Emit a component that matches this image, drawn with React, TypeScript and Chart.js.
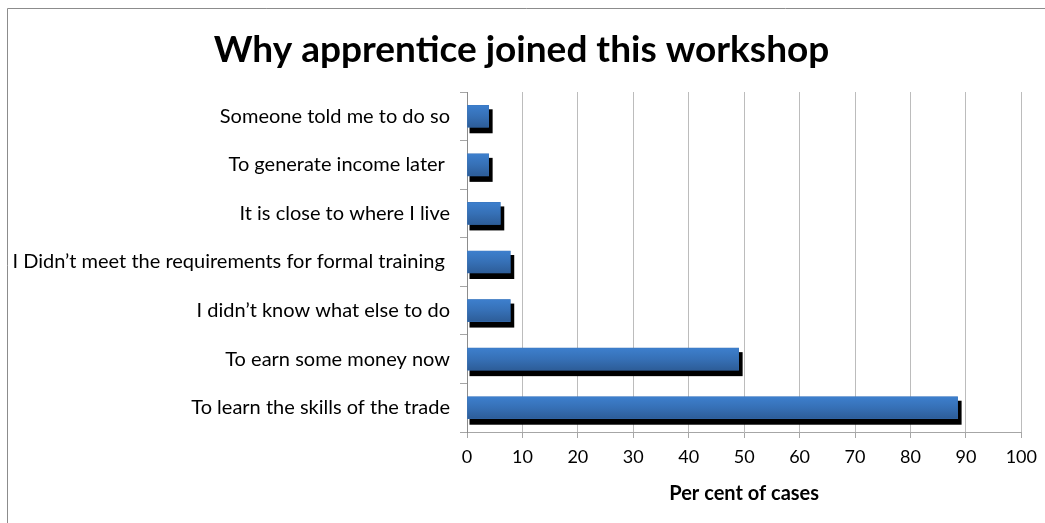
import React, { useEffect, useRef } from "react";
import { Chart, registerables } from "chart.js";

Chart.register(...registerables);

const categories: string[] = [
  "Someone told me to do so",
  "To generate income later ",
  "It is close to where I live",
  "I Didn’t meet the requirements for formal training ",
  "I didn’t know what else to do",
  "To earn some money now",
  "To learn the skills of the trade",
];

const percentValues: number[] = [3.9, 3.9, 6.0, 7.8, 7.8, 49.0, 88.5];

const chartTitle = "Why apprentice joined this workshop";
const xAxisTitle = "Per cent of cases";
const xTickValues: number[] = [0, 10, 20, 30, 40, 50, 60, 70, 80, 90, 100];

const FONT = "Lato, 'Open Sans', sans-serif";

const shadowAndGradient = {
  id: "shadowAndGradient",
  beforeDatasetsDraw(chart: any) {
    const ctx = chart.ctx;
    const meta = chart.getDatasetMeta(0);
    ctx.save();
    ctx.fillStyle = "#000000";
    meta.data.forEach((bar: any) => {
      const top = bar.y - bar.height / 2;
      const bottom = bar.y + bar.height / 2;
      ctx.fillRect(bar.base + 2, top + 4, bar.x - bar.base + 2, bottom - top + 2);
    });
    ctx.restore();
  },
  afterDatasetsDraw(chart: any) {
    const ctx = chart.ctx;
    const meta = chart.getDatasetMeta(0);
    ctx.save();
    meta.data.forEach((bar: any) => {
      const top = bar.y - bar.height / 2;
      const bottom = bar.y + bar.height / 2;
      const g = ctx.createLinearGradient(0, top, 0, bottom);
      g.addColorStop(0, "#3d7fcd");
      g.addColorStop(0.5, "#3670b6");
      g.addColorStop(1, "#2d5d98");
      ctx.fillStyle = g;
      ctx.fillRect(bar.base, top, bar.x - bar.base, bottom - top);
    });
    ctx.restore();
  },
  afterDraw(chart: any) {
    const ctx = chart.ctx;
    ctx.save();
    ctx.strokeStyle = "#8c8c8c";
    ctx.lineWidth = 1;
    ctx.beginPath();
    ctx.moveTo(7.5, chart.height);
    ctx.lineTo(7.5, 8.5);
    ctx.lineTo(chart.width, 8.5);
    ctx.stroke();
    ctx.restore();
  },
};

export default function App() {
  const canvasRef = useRef<HTMLCanvasElement | null>(null);

  useEffect(() => {
    if (!canvasRef.current) return;
    const chart = new Chart(canvasRef.current, {
      type: "bar",
      data: {
        labels: categories,
        datasets: [
          {
            data: percentValues,
            backgroundColor: "#3670b6",
            borderWidth: 0,
            barThickness: 22,
          },
        ],
      },
      options: {
        indexAxis: "y",
        responsive: false,
        animation: false,
        layout: { padding: { left: 10, right: 12, top: 0, bottom: 0 } },
        plugins: {
          legend: { display: false },
          tooltip: { enabled: false },
          title: {
            display: true,
            text: chartTitle,
            color: "#000000",
            font: { family: FONT, size: 37, weight: "bold", lineHeight: 1.2 },
            padding: { top: 28, bottom: 19.6 },
          },
        },
        scales: {
          x: {
            type: "linear",
            min: 0,
            max: 100,
            afterBuildTicks(scale: any) {
              scale.ticks = xTickValues.map((v) => ({ value: v }));
            },
            afterFit(scale: any) {
              scale.height = 91;
            },
            grid: {
              color: "#bcbcbc",
              tickLength: 6,
              tickColor: "#a6a6a6",
            },
            border: { color: "#a6a6a6" },
            ticks: {
              color: "#000000",
              padding: 8,
              maxRotation: 0,
              font: { family: FONT, size: 18 },
            },
            title: {
              display: true,
              text: xAxisTitle,
              color: "#000000",
              font: { family: FONT, size: 20, weight: "bold", lineHeight: 1.2 },
              padding: { top: 0, bottom: 17 },
            },
          },
          y: {
            type: "category",
            afterFit(scale: any) {
              scale.width = 457;
            },
            grid: {
              drawOnChartArea: false,
              tickLength: 7,
              tickColor: "#a6a6a6",
              offset: true,
            },
            border: { color: "#8c8c8c" },
            ticks: {
              color: "#000000",
              padding: 10,
              autoSkip: false,
              font: { family: FONT, size: 20 },
            },
          },
          yRight: {
            type: "category",
            position: "right",
            afterFit(scale: any) {
              scale.width = 10;
            },
            grid: { display: false, drawTicks: false },
            border: { display: false },
            ticks: { display: false },
          },
        },
      },
      plugins: [shadowAndGradient],
    });
    return () => chart.destroy();
  }, []);

  return (
    <div
      style={{
        position: "fixed",
        left: 0,
        top: 0,
        width: 1045,
        height: 523,
        background: "#ffffff",
        overflow: "hidden",
      }}
    >
      <canvas ref={canvasRef} width={1045} height={523} />
    </div>
  );
}
